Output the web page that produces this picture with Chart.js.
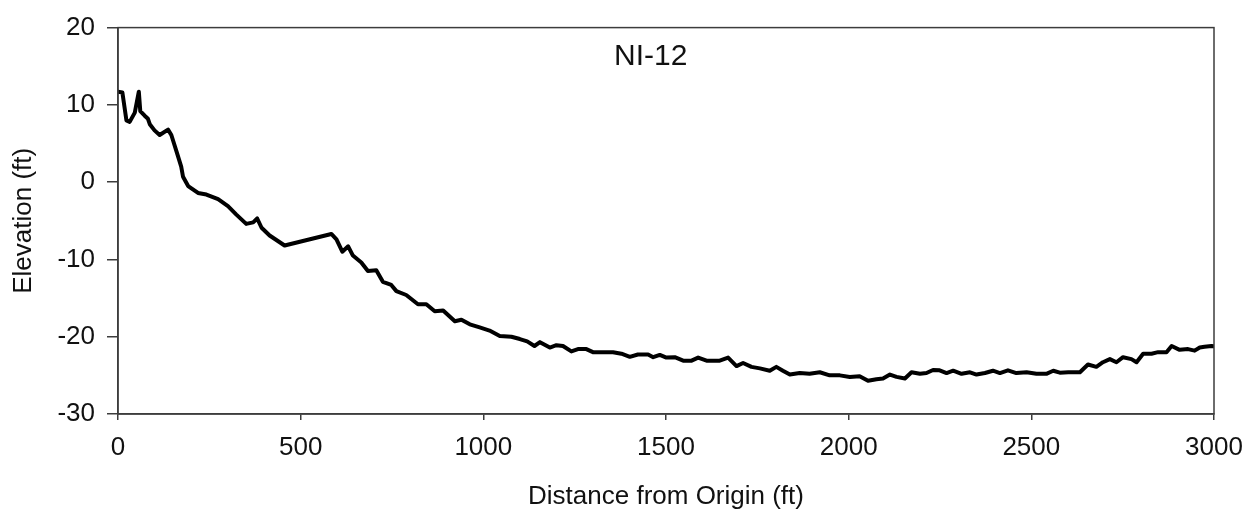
<!DOCTYPE html>
<html>
<head>
<meta charset="utf-8">
<title>NI-12</title>
<script src="https://cdn.jsdelivr.net/npm/chart.js@4.4.1/dist/chart.umd.min.js"></script>
<style>
  html, body { margin: 0; padding: 0; background: #fff; }
  #wrap { width: 1257px; height: 514px; }
</style>
</head>
<body>
<div id="wrap"><canvas id="profile"></canvas></div>
<script>
var distance = [0, 12, 23, 32, 46, 57, 61, 73, 82, 87, 100, 114, 137, 146, 162, 173, 178, 192, 219, 242,
  274, 301, 324, 351, 370, 381, 393, 415, 456, 584, 598, 614, 630, 643, 666, 684, 707, 725, 748, 762,
  789, 821, 844, 867, 890, 922, 940, 963, 990, 1017, 1045, 1077, 1100, 1120, 1140, 1155, 1182, 1200, 1218, 1241,
  1259, 1282, 1300, 1328, 1355, 1378, 1401, 1423, 1451, 1465, 1483, 1501, 1524, 1547, 1570, 1588, 1611, 1647, 1670, 1693,
  1711, 1734, 1757, 1784, 1802, 1820, 1839, 1866, 1893, 1921, 1948, 1976, 2003, 2030, 2053, 2076, 2094, 2113, 2131, 2154,
  2172, 2195, 2213, 2231, 2249, 2268, 2286, 2309, 2332, 2350, 2373, 2395, 2414, 2436, 2459, 2487, 2514, 2541, 2560, 2578,
  2601, 2633, 2655, 2678, 2696, 2715, 2733, 2751, 2774, 2788, 2806, 2829, 2847, 2870, 2884, 2906, 2929, 2947, 2961, 2974,
  2993, 3000];

var elevation = [11.7, 11.6, 8.0, 7.8, 9.0, 11.7, 9.2, 8.6, 8.2, 7.5, 6.7, 6.1, 6.8, 6.1, 3.7, 2.0, 0.7, -0.5, -1.4, -1.6,
  -2.2, -3.1, -4.2, -5.4, -5.2, -4.7, -5.9, -6.9, -8.2, -6.7, -7.4, -9.0, -8.3, -9.5, -10.4, -11.5, -11.4, -12.9, -13.3, -14.1,
  -14.6, -15.8, -15.8, -16.7, -16.6, -18.0, -17.8, -18.4, -18.8, -19.2, -19.9, -20.0, -20.3, -20.6, -21.2, -20.7, -21.4, -21.1, -21.2, -21.9,
  -21.6, -21.6, -22.0, -22.0, -22.0, -22.2, -22.6, -22.3, -22.3, -22.65, -22.35, -22.7, -22.65, -23.1, -23.1, -22.7, -23.1, -23.1, -22.7, -23.8,
  -23.4, -23.9, -24.1, -24.4, -23.9, -24.4, -24.9, -24.7, -24.8, -24.6, -25.0, -25.0, -25.2, -25.1, -25.7, -25.5, -25.4, -24.9, -25.2, -25.4,
  -24.6, -24.8, -24.7, -24.3, -24.35, -24.7, -24.4, -24.8, -24.6, -24.9, -24.7, -24.4, -24.7, -24.35, -24.7, -24.6, -24.8, -24.8, -24.4, -24.65,
  -24.6, -24.6, -23.6, -23.9, -23.3, -22.9, -23.3, -22.65, -22.9, -23.3, -22.2, -22.2, -22.0, -22.0, -21.2, -21.7, -21.6, -21.8, -21.4, -21.3,
  -21.2, -21.25];

var xTicks = [0, 500, 1000, 1500, 2000, 2500, 3000];
var yTicks = [-30, -20, -10, 0, 10, 20];
var chartTitle = "NI-12";

var axisColor = "#3c3c3c";
var fontFamily = "'Liberation Sans', Arial, sans-serif";

var points = distance.map(function (d, i) {
  return { x: d, y: elevation[i] };
});

// frame around plot area + title inside it
var framePlugin = {
  id: "frame",
  afterDatasetsDraw: function (chart) {
    var ctx = chart.ctx;
    var a = chart.chartArea;
    ctx.save();
    ctx.strokeStyle = axisColor;
    ctx.lineWidth = 1.5;
    ctx.strokeRect(a.left, a.top, a.right - a.left, a.bottom - a.top);
    ctx.fillStyle = "#111";
    ctx.font = "30px " + fontFamily;
    ctx.textAlign = "center";
    ctx.textBaseline = "middle";
    ctx.fillText(chartTitle, chart.scales.x.getPixelForValue(1458), chart.scales.y.getPixelForValue(16.2));
    ctx.restore();
  }
};

function plainLabel(value) {
  return String(value);
}

var ctx = document.getElementById("profile").getContext("2d");
var profileChart = new Chart(ctx, {
  type: "line",
  data: {
    datasets: [{
      data: points,
      borderColor: "#000",
      borderWidth: 4,
      borderJoinStyle: "round",
      borderCapStyle: "round",
      pointRadius: 0,
      tension: 0,
      fill: false
    }]
  },
  options: {
    responsive: true,
    maintainAspectRatio: false,
    animation: false,
    layout: { padding: { top: 22, right: 43, left: 0, bottom: 0 } },
    plugins: {
      legend: { display: false },
      tooltip: { enabled: false }
    },
    scales: {
      x: {
        type: "linear",
        min: 0,
        max: 3000,
        afterBuildTicks: function (scale) {
          scale.ticks = xTicks.map(function (v) { return { value: v }; });
        },
        afterFit: function (scale) { scale.height = 100; },
        grid: { drawOnChartArea: false, tickLength: 6, color: axisColor, tickColor: axisColor, lineWidth: 1.5 },
        border: { color: axisColor, width: 1.5 },
        ticks: { color: "#111", padding: 12, maxRotation: 0, callback: plainLabel, font: { family: fontFamily, size: 26 } },
        title: {
          display: true,
          text: "Distance from Origin (ft)",
          color: "#111",
          padding: { top: 0, bottom: 2 },
          font: { family: fontFamily, size: 26 }
        }
      },
      y: {
        min: -30,
        max: 20,
        afterBuildTicks: function (scale) {
          scale.ticks = yTicks.map(function (v) { return { value: v }; });
        },
        afterFit: function (scale) { scale.width = 118; },
        grid: { drawOnChartArea: false, tickLength: 11, color: axisColor, tickColor: axisColor, lineWidth: 1.5 },
        border: { color: axisColor, width: 1.5 },
        ticks: { color: "#111", padding: 12, callback: plainLabel, font: { family: fontFamily, size: 26 } },
        title: {
          display: true,
          text: "Elevation (ft)",
          color: "#111",
          padding: { top: 8, bottom: 0 },
          font: { family: fontFamily, size: 26 }
        }
      }
    }
  },
  plugins: [framePlugin]
});
</script>
</body>
</html>
